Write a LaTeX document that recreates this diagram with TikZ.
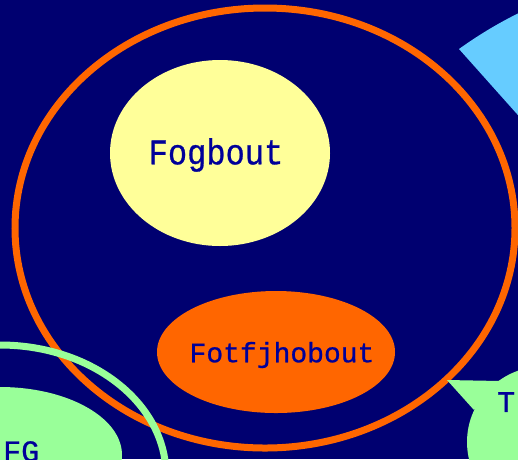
\documentclass[tikz,border=0pt]{standalone}
\usepackage{graphicx}
\usepackage{fontspec}
\setmonofont[FakeBold=0.8]{Liberation Mono}
\usetikzlibrary{shapes.geometric}
\definecolor{navybg}{HTML}{000070}
\definecolor{orangeink}{HTML}{FF6600}
\definecolor{paleyellow}{HTML}{FFFF99}
\definecolor{palegreen}{HTML}{99FF99}
\definecolor{skyblue}{HTML}{66CCFF}
\definecolor{textblue}{HTML}{000099}

\begin{document}
\begin{tikzpicture}[x=1pt,y=-1pt]
\tikzstyle{blob}=[shape=ellipse,inner sep=0pt]
\tikzstyle{label}=[inner sep=0pt,text=textblue,font=\ttfamily\fontsize{30}{30}\selectfont]

\useasboundingbox (0,0) rectangle (518,459);
\fill[navybg] (0,0) rectangle (518,459);
\clip (0,0) rectangle (518,459);

\fill[skyblue] (459,49) .. controls (480,34) and (500,22) .. (525,10) -- (525,123) -- cycle;

\draw[orangeink,line width=7pt] (265,228) ellipse [x radius=250, y radius=220];

\node[blob,fill=paleyellow,minimum width=220pt,minimum height=186pt] (fogbout) at (220,153) {};
\node[label,font=\ttfamily\fontsize{36}{36}\selectfont] (fogtext) at (216,155) {\scalebox{0.89}[1]{Fogbout}};
\node[blob,fill=orangeink,minimum width=238pt,minimum height=122pt] (fotf) at (276,352) {};
\node[label,font=\ttfamily\fontsize{28}{28}\selectfont] (fotftext) at (282,355) {Fotfjhobout};

\node[blob,fill=palegreen,minimum width=244pt,minimum height=136pt] (fgblob) at (0,455) {};
\node[label,anchor=north west] (fg) at (3,441) {FG};
\draw[palegreen,line width=7pt] (0,475) ellipse [x radius=166, y radius=130];

\fill[palegreen] (447,380) -- (500,381) -- (474,410) -- cycle;
\node[blob,fill=palegreen,minimum width=156pt,minimum height=152pt] (bubble) at (545,442) {};
\node[label,anchor=north west] (t) at (497,392) {T};
\end{tikzpicture}
\end{document}
